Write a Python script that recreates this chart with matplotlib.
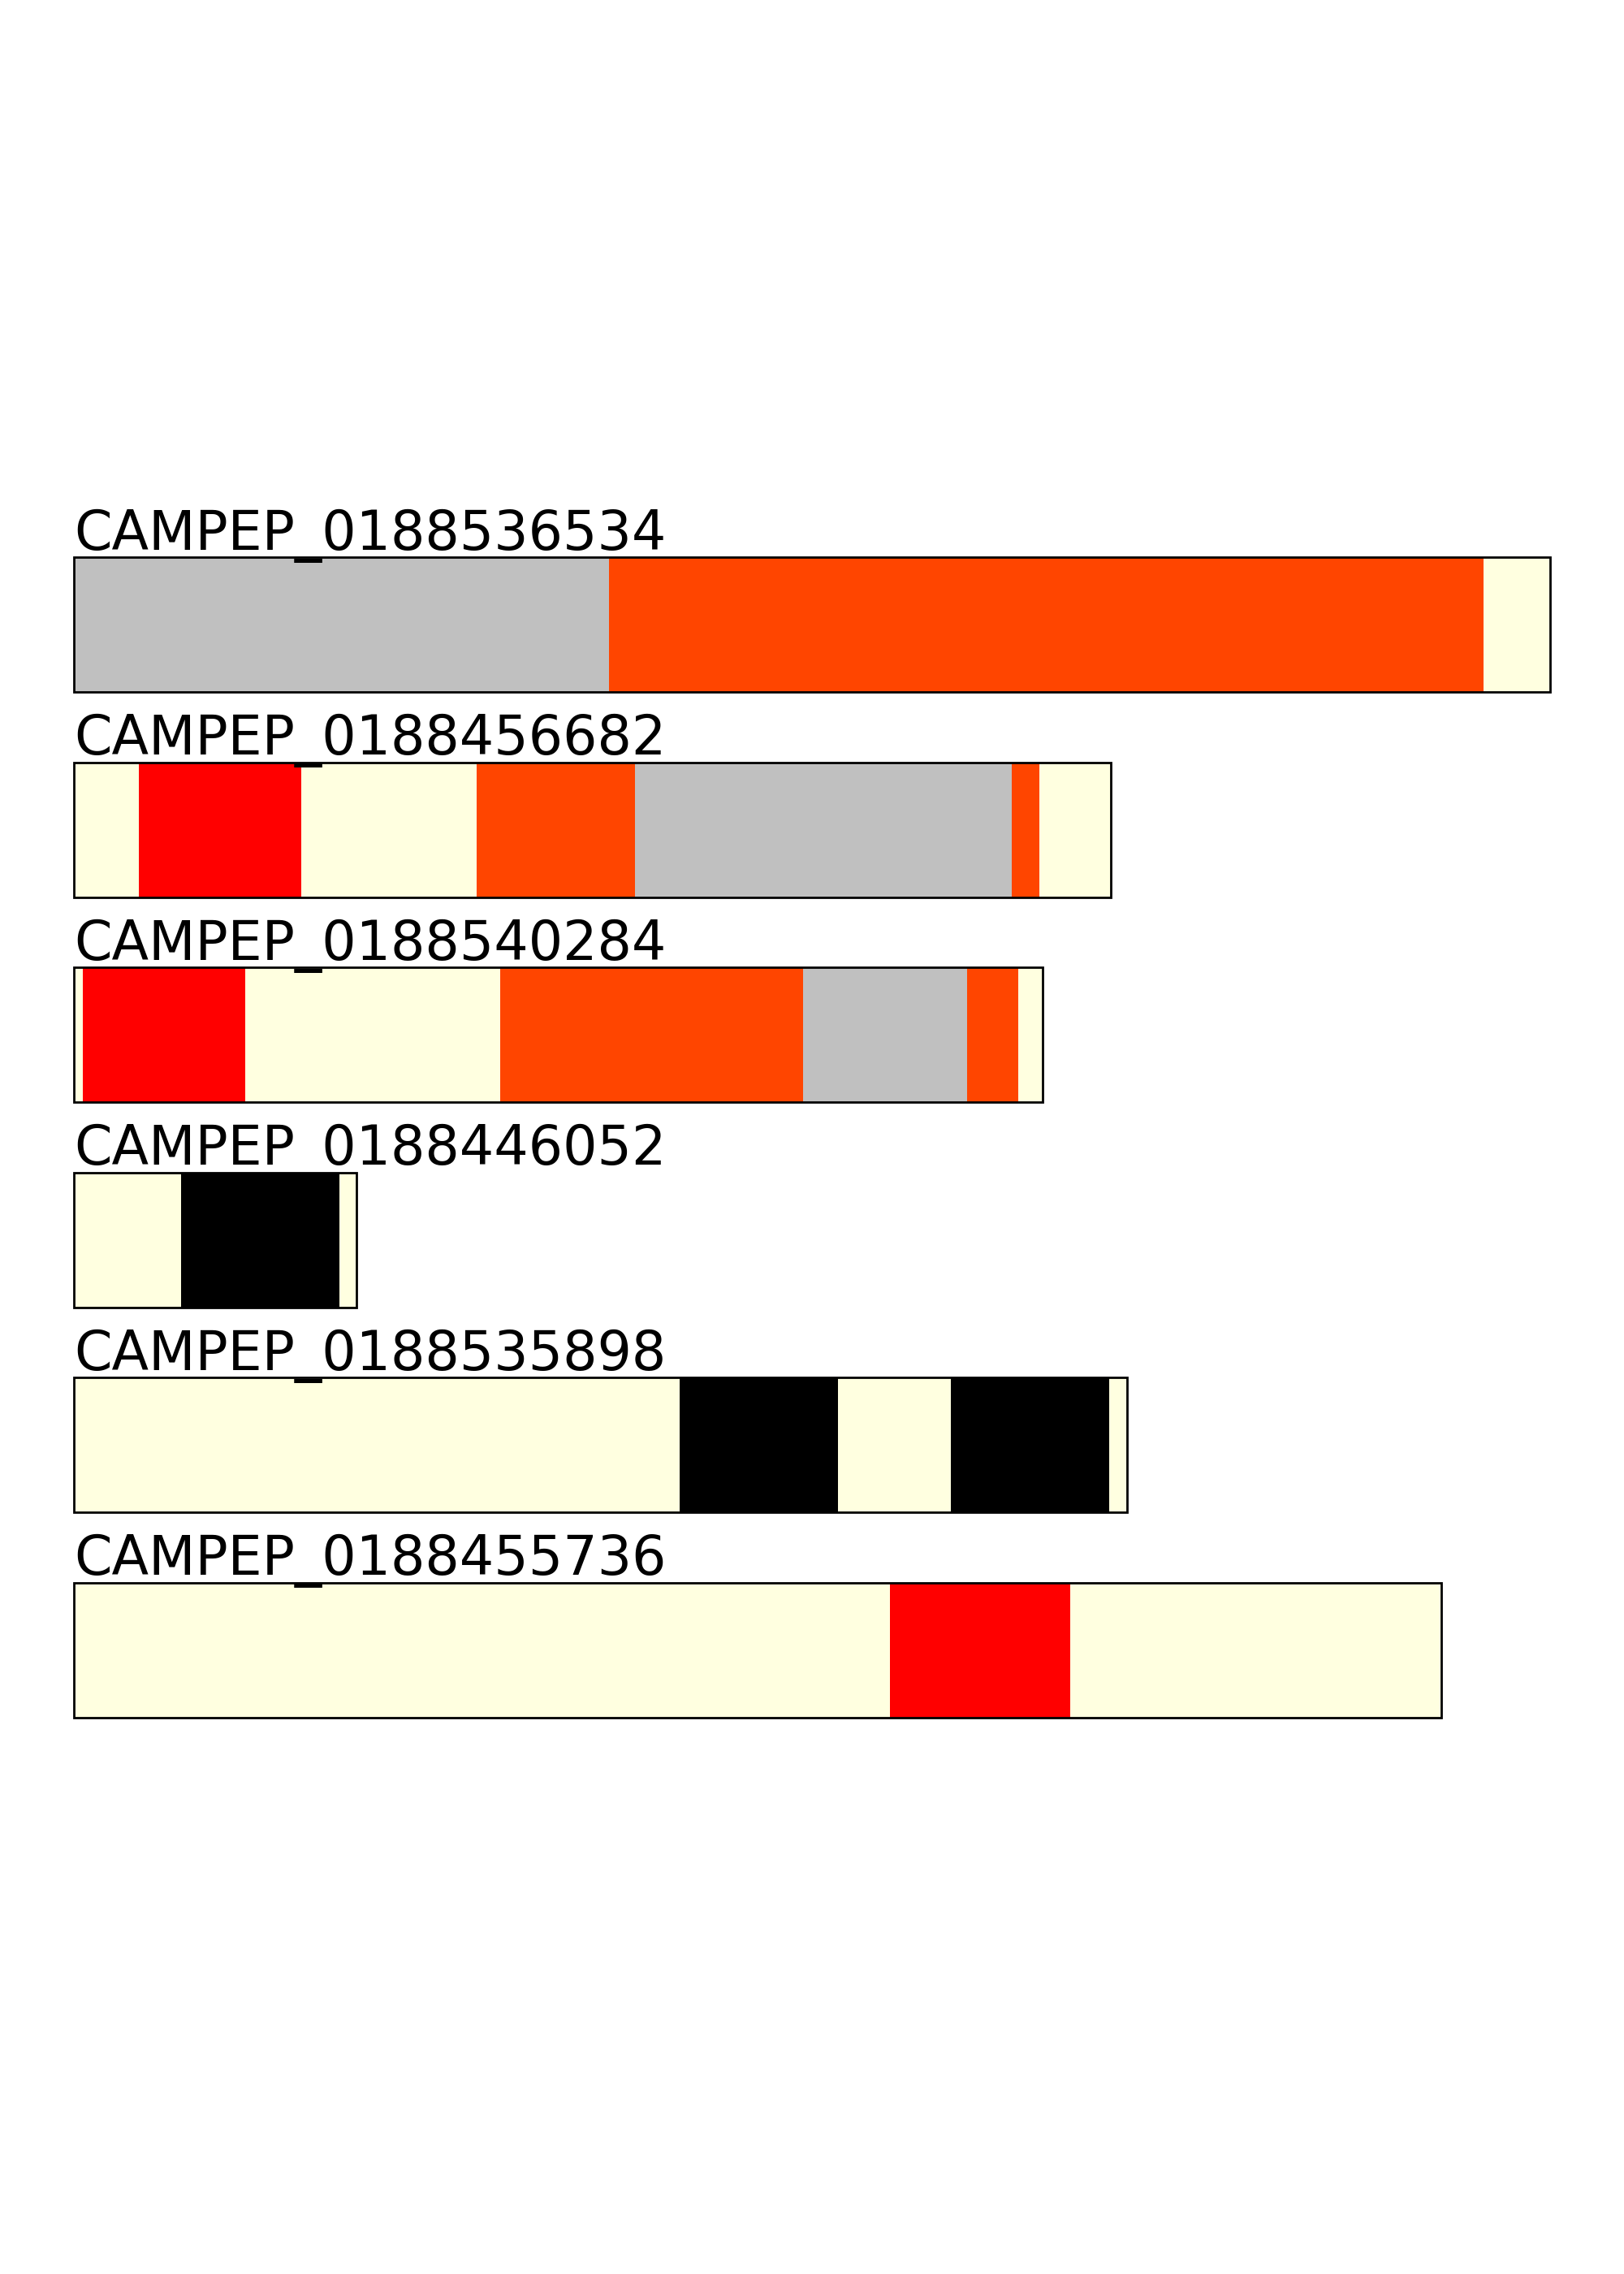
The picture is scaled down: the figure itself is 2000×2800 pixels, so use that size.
import matplotlib
matplotlib.use("Agg")
import matplotlib.pyplot as plt
from matplotlib.patches import Rectangle

# one entry per sequence, top to bottom
names = ["CAMPEP_0188536534", "CAMPEP_0188456682", "CAMPEP_0188540284",
         "CAMPEP_0188446052", "CAMPEP_0188535898", "CAMPEP_0188455736"]

# segment boundaries along each sequence
bounds = [
    [0, 369, 972, 1018],
    [0, 45, 157, 278, 387, 647, 666, 715],
    [0, 6, 118, 294, 503, 616, 651, 668],
    [0, 74, 183, 195],
    [0, 418, 527, 605, 714, 726],
    [0, 563, 687, 943],
]

# colour of each segment
seg_colors = [
    ["silver", "orangered", "lightyellow"],
    ["lightyellow", "red", "lightyellow", "orangered", "silver", "orangered", "lightyellow"],
    ["lightyellow", "red", "lightyellow", "orangered", "silver", "orangered", "lightyellow"],
    ["lightyellow", "black", "lightyellow"],
    ["lightyellow", "black", "lightyellow", "black", "lightyellow"],
    ["lightyellow", "red", "lightyellow"],
]

max_len = max(b[-1] for b in bounds)

fig = plt.figure(figsize=(10, 14), dpi=200)

W, H = 2000, 2800
left_px, right_px = 91, 1909
box_h = 166
first_top = 686
step = 252.5

for i, name in enumerate(names):
    top = first_top + i * step
    ax = fig.add_axes([left_px / W, 1 - (top + box_h) / H,
                       (right_px - left_px) / W, box_h / H])
    b = bounds[i]
    starts = b[:-1]
    widths = [e - s for s, e in zip(b[:-1], b[1:])]
    ax.barh(0.5, widths, left=starts, height=1.0, color=seg_colors[i],
            linewidth=0)
    ax.add_patch(Rectangle((0, 0), b[-1], 1, fill=False, edgecolor="black",
                           linewidth=1, zorder=5, clip_on=False))
    ax.set_xlim(0, max_len)
    ax.set_ylim(0, 1)
    ax.axis("off")
    # label sits right on the bar, underscore dips into the box
    ax.annotate(name, xy=(0, 1), xycoords="axes fraction", xytext=(0, 3.4),
                textcoords="offset points", ha="left", va="baseline",
                fontsize=24, zorder=4, annotation_clip=False)

fig.savefig("out.png", dpi=200)
